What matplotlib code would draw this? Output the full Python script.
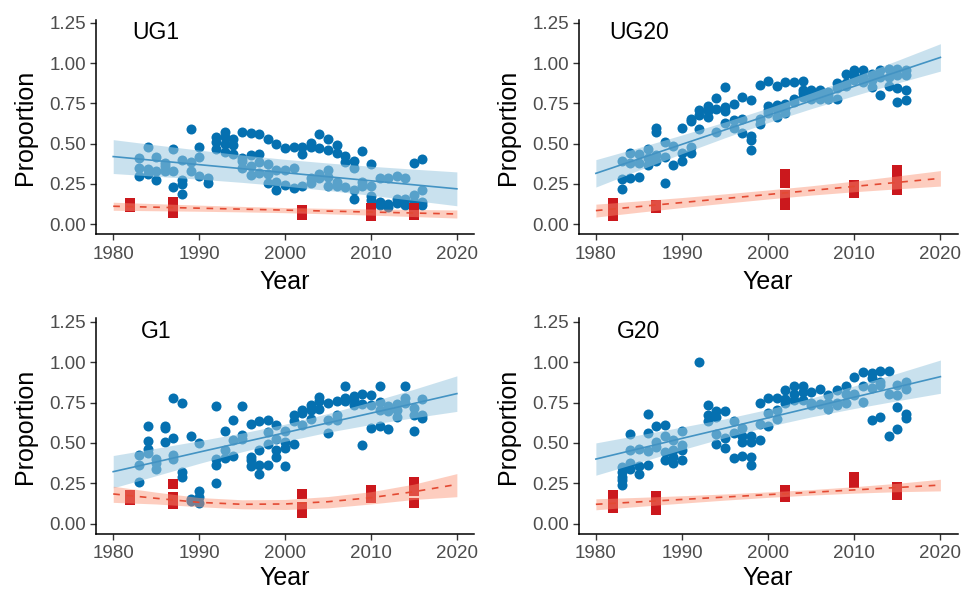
import numpy as np
import matplotlib
matplotlib.use('Agg')
import matplotlib.pyplot as plt

plt.rcParams['font.family'] = ['Liberation Sans', 'DejaVu Sans']

# ---- data ----
# blue points: one list of proportions per year
ug1_years = list(range(1983, 2017))
ug1_blue = [[0.41, 0.35, 0.30], [0.48, 0.34, 0.31], [0.415, 0.33, 0.275], [0.38, 0.36, 0.33],
            [0.47, 0.33, 0.23], [0.40, 0.275, 0.25, 0.19], [0.59, 0.385, 0.33], [0.48, 0.415, 0.30],
            [0.29, 0.255], [0.54, 0.51, 0.47], [0.57, 0.54, 0.50, 0.45], [0.53, 0.49, 0.435],
            [0.575, 0.41, 0.39, 0.35], [0.565, 0.43, 0.36, 0.305], [0.56, 0.435, 0.385, 0.32],
            [0.53, 0.375, 0.31, 0.255], [0.50, 0.335, 0.265, 0.215], [0.475, 0.335, 0.245],
            [0.48, 0.35, 0.225], [0.48, 0.435, 0.235], [0.505, 0.48, 0.285, 0.255],
            [0.56, 0.475, 0.315, 0.285], [0.53, 0.46, 0.335, 0.295, 0.235], [0.49, 0.445, 0.265, 0.235],
            [0.425, 0.385, 0.23], [0.395, 0.35, 0.215, 0.16], [0.455, 0.265, 0.235],
            [0.375, 0.235, 0.175, 0.15], [0.29, 0.14, 0.12], [0.29, 0.125, 0.105], [0.30, 0.16, 0.13],
            [0.29, 0.155, 0.12], [0.38, 0.18, 0.14, 0.11], [0.405, 0.21, 0.14, 0.12]]

ug20_years = list(range(1983, 2017))
ug20_blue = [[0.39, 0.28, 0.22], [0.44, 0.38, 0.285], [0.435, 0.38, 0.295], [0.47, 0.41, 0.365],
             [0.595, 0.575, 0.43, 0.39], [0.51, 0.42, 0.255], [0.485, 0.37], [0.60, 0.445, 0.39],
             [0.655, 0.64, 0.48, 0.44], [0.71, 0.68, 0.59], [0.735, 0.70, 0.665], [0.785, 0.715, 0.57],
             [0.85, 0.725, 0.70, 0.63], [0.745, 0.645, 0.595], [0.79, 0.65, 0.565],
             [0.77, 0.55, 0.525, 0.46], [0.865, 0.655, 0.625], [0.89, 0.735, 0.71, 0.69],
             [0.855, 0.74, 0.715, 0.665], [0.88, 0.745, 0.72, 0.69], [0.88, 0.78, 0.76],
             [0.89, 0.835, 0.815, 0.79], [0.835, 0.805, 0.78], [0.835, 0.80, 0.78], [0.82, 0.80, 0.775],
             [0.875, 0.845, 0.775], [0.935, 0.875, 0.855], [0.955, 0.925, 0.895], [0.955, 0.915, 0.88],
             [0.935, 0.895, 0.85], [0.955, 0.915, 0.80], [0.965, 0.915, 0.855],
             [0.965, 0.925, 0.845, 0.76], [0.955, 0.925, 0.835, 0.77]]

g1_years = [1983, 1984, 1985, 1986, 1987, 1988, 1989, 1990] + list(range(1992, 2017))
g1_blue = [[0.425, 0.365, 0.255], [0.605, 0.51, 0.465, 0.435], [0.40, 0.375, 0.34], [0.605, 0.59, 0.505],
           [0.78, 0.53, 0.425, 0.40], [0.75, 0.32, 0.29], [0.54, 0.15, 0.14], [0.50, 0.20, 0.165, 0.13],
           [0.73, 0.40, 0.365, 0.25], [0.575, 0.455, 0.405], [0.64, 0.52, 0.42], [0.73, 0.55, 0.525],
           [0.615, 0.415, 0.395, 0.355], [0.635, 0.455, 0.365, 0.31], [0.64, 0.565, 0.495, 0.365],
           [0.61, 0.525, 0.455, 0.41], [0.575, 0.505, 0.47, 0.36], [0.675, 0.635, 0.495],
           [0.705, 0.685, 0.61], [0.735, 0.705, 0.65], [0.785, 0.76, 0.71], [0.75, 0.64, 0.56],
           [0.76, 0.675, 0.64], [0.85, 0.78, 0.76], [0.79, 0.765, 0.735], [0.80, 0.74, 0.485],
           [0.795, 0.735, 0.59], [0.85, 0.755, 0.705, 0.605], [0.73, 0.695, 0.585], [0.74, 0.705, 0.66],
           [0.855, 0.78, 0.75], [0.715, 0.67, 0.575], [0.77, 0.675, 0.655]]

g20_years = [1983, 1984, 1985, 1986, 1987, 1988, 1989, 1990] + list(range(1992, 2017))
g20_blue = [[0.35, 0.32, 0.29, 0.27, 0.24], [0.555, 0.455, 0.375, 0.34], [0.46, 0.355, 0.305],
            [0.68, 0.56, 0.45, 0.365], [0.605, 0.505, 0.475], [0.61, 0.54, 0.445, 0.395],
            [0.52, 0.455, 0.415, 0.375], [0.575, 0.485, 0.455, 0.395], [1.0],
            [0.735, 0.67, 0.635], [0.70, 0.66, 0.555, 0.495], [0.695, 0.53, 0.47], [0.635, 0.56, 0.405],
            [0.59, 0.54, 0.505, 0.42], [0.54, 0.505, 0.415, 0.365], [0.75, 0.62, 0.515],
            [0.78, 0.685, 0.605], [0.78, 0.705, 0.65], [0.825, 0.77, 0.745], [0.855, 0.80, 0.765],
            [0.85, 0.815, 0.765], [0.815, 0.75, 0.735], [0.835, 0.74], [0.795, 0.745, 0.71],
            [0.825, 0.745, 0.735], [0.855, 0.805, 0.745], [0.91, 0.805, 0.795], [0.94, 0.85, 0.755],
            [0.93, 0.90, 0.84, 0.64], [0.945, 0.88, 0.86, 0.66], [0.945, 0.805, 0.545],
            [0.86, 0.795, 0.72, 0.585], [0.875, 0.835, 0.68, 0.655]]

# red squares: survey years and proportions
red_years = [1982, 1987, 2002, 2010, 2015]
ug1_red = [[0.13, 0.105], [0.14, 0.11, 0.07], [0.09, 0.06], [0.10, 0.05], [0.10, 0.06]]
ug20_red = [[0.13, 0.09, 0.05], [0.12, 0.10], [0.315, 0.255, 0.18, 0.12], [0.245, 0.195],
            [0.335, 0.295, 0.265, 0.215]]
g1_red = [[0.177, 0.145], [0.245, 0.167, 0.12], [0.184, 0.105, 0.064], [0.21, 0.157],
          [0.255, 0.20, 0.126]]
g20_red = [[0.175, 0.135, 0.095], [0.17, 0.135, 0.085], [0.21, 0.165], [0.29, 0.25], [0.23, 0.18]]

# fitted trends and confidence bands
fit_years = [1980, 1985, 1990, 1995, 2000, 2005, 2010, 2015, 2020]
ug1_bfit = [0.42, 0.395, 0.37, 0.345, 0.32, 0.295, 0.27, 0.245, 0.22]
ug1_blo = [0.315, 0.298, 0.28, 0.26, 0.237, 0.21, 0.18, 0.148, 0.115]
ug1_bhi = [0.525, 0.492, 0.46, 0.43, 0.403, 0.38, 0.36, 0.342, 0.325]
ug1_rfit = [0.112, 0.106, 0.100, 0.094, 0.088, 0.082, 0.076, 0.070, 0.064]
ug1_rlo = [0.087, 0.084, 0.081, 0.077, 0.072, 0.065, 0.057, 0.048, 0.039]
ug1_rhi = [0.137, 0.128, 0.119, 0.111, 0.104, 0.099, 0.095, 0.092, 0.089]

ug20_bfit = [0.316, 0.406, 0.496, 0.586, 0.676, 0.766, 0.856, 0.946, 1.035]
ug20_blo = [0.231, 0.336, 0.438, 0.537, 0.631, 0.717, 0.798, 0.876, 0.95]
ug20_bhi = [0.401, 0.476, 0.554, 0.635, 0.721, 0.815, 0.914, 1.016, 1.12]
ug20_rfit = [0.085, 0.11, 0.135, 0.16, 0.185, 0.21, 0.235, 0.26, 0.285]
ug20_rlo = [0.045, 0.075, 0.104, 0.131, 0.157, 0.181, 0.202, 0.22, 0.237]
ug20_rhi = [0.125, 0.145, 0.166, 0.189, 0.213, 0.239, 0.268, 0.30, 0.333]

g1_bfit = [0.322, 0.382, 0.443, 0.503, 0.563, 0.624, 0.684, 0.744, 0.805]
g1_blo = [0.222, 0.297, 0.373, 0.445, 0.51, 0.566, 0.614, 0.656, 0.695]
g1_bhi = [0.422, 0.467, 0.513, 0.561, 0.616, 0.682, 0.754, 0.832, 0.915]
g1_rfit = [0.184, 0.157, 0.132, 0.12, 0.122, 0.136, 0.161, 0.198, 0.243]
g1_rlo = [0.132, 0.122, 0.105, 0.092, 0.088, 0.098, 0.122, 0.15, 0.167]
g1_rhi = [0.232, 0.195, 0.162, 0.148, 0.15, 0.168, 0.198, 0.245, 0.31]

g20_bfit = [0.40, 0.464, 0.528, 0.591, 0.655, 0.719, 0.783, 0.846, 0.91]
g20_blo = [0.30, 0.379, 0.458, 0.533, 0.602, 0.661, 0.713, 0.761, 0.807]
g20_bhi = [0.50, 0.549, 0.598, 0.649, 0.708, 0.777, 0.853, 0.931, 1.013]
g20_rfit = [0.12, 0.135, 0.15, 0.165, 0.18, 0.194, 0.209, 0.224, 0.239]
g20_rlo = [0.086, 0.107, 0.127, 0.146, 0.163, 0.177, 0.189, 0.198, 0.203]
g20_rhi = [0.154, 0.163, 0.173, 0.184, 0.197, 0.211, 0.229, 0.25, 0.275]

panel_names = ['UG1', 'UG20', 'G1', 'G20']

DOT = '#0570b0'
BAND_B = '#9ecae1'
LINE_B = '#4393c3'
SQ = '#cb181d'
BAND_R = '#fc9272'
LINE_R = '#e34a33'


def flatten(years, groups):
    xs, ys = [], []
    for yr, vals in zip(years, groups):
        for v in vals:
            xs.append(yr)
            ys.append(v)
    return xs, ys


def draw_panel(ax, name, byears, blue, red, bfit, blo, bhi, rfit, rlo, rhi, xlab_y):
    bx, by = flatten(byears, blue)
    rx, ry = flatten(red_years, red)
    ax.scatter(bx, by, s=52, color=DOT, linewidths=0, zorder=2)
    ax.scatter(rx, ry, s=44, marker='s', color=SQ, linewidths=0, zorder=2)
    ax.fill_between(fit_years, blo, bhi, color=BAND_B, alpha=0.55, linewidth=0, zorder=3)
    ax.plot(fit_years, bfit, color=LINE_B, lw=1.2, zorder=4)
    ax.fill_between(fit_years, rlo, rhi, color=BAND_R, alpha=0.45, linewidth=0, zorder=3)
    ax.plot(fit_years, rfit, color=LINE_R, lw=1.2, ls=(0, (4, 4)), zorder=4)

    ax.set_xlim(1978, 2022)
    ax.set_ylim(-0.0625, 1.27)
    ax.set_xticks([1980, 1990, 2000, 2010, 2020])
    ax.set_yticks([0, 0.25, 0.5, 0.75, 1.0, 1.25])
    ax.set_yticklabels(['0.00', '0.25', '0.50', '0.75', '1.00', '1.25'])
    for s in ['top', 'right']:
        ax.spines[s].set_visible(False)
    for s in ['left', 'bottom']:
        ax.spines[s].set_linewidth(1.1)
        ax.spines[s].set_color('black')
    ax.tick_params(length=4.5, width=1.0, color='#333333', labelcolor='#4d4d4d',
                   labelsize=13.5)
    ax.tick_params(axis='x', pad=3.5)
    ax.tick_params(axis='y', pad=2.5)
    ax.set_xlabel('Year', fontsize=18)
    ax.set_ylabel('Proportion', fontsize=18)
    ax.xaxis.set_label_coords(0.5, xlab_y)
    ax.yaxis.set_label_coords(-0.155, 0.5)
    ax.text(1985, 1.19, name, fontsize=16.5, ha='center', va='center', color='black')


fig = plt.figure(figsize=(9.74, 5.91), dpi=100)
pos = [[0.0986, 0.6034, 0.3881, 0.3636],
       [0.5941, 0.6034, 0.3891, 0.3636],
       [0.0986, 0.0968, 0.3881, 0.3643],
       [0.5941, 0.0968, 0.3891, 0.3643]]
axes = [fig.add_axes(p) for p in pos]

draw_panel(axes[0], panel_names[0], ug1_years, ug1_blue, ug1_red,
           ug1_bfit, ug1_blo, ug1_bhi, ug1_rfit, ug1_rlo, ug1_rhi, -0.165)
draw_panel(axes[1], panel_names[1], ug20_years, ug20_blue, ug20_red,
           ug20_bfit, ug20_blo, ug20_bhi, ug20_rfit, ug20_rlo, ug20_rhi, -0.165)
draw_panel(axes[2], panel_names[2], g1_years, g1_blue, g1_red,
           g1_bfit, g1_blo, g1_bhi, g1_rfit, g1_rlo, g1_rhi, -0.15)
draw_panel(axes[3], panel_names[3], g20_years, g20_blue, g20_red,
           g20_bfit, g20_blo, g20_bhi, g20_rfit, g20_rlo, g20_rhi, -0.15)

fig.savefig('out.png', dpi=100)
